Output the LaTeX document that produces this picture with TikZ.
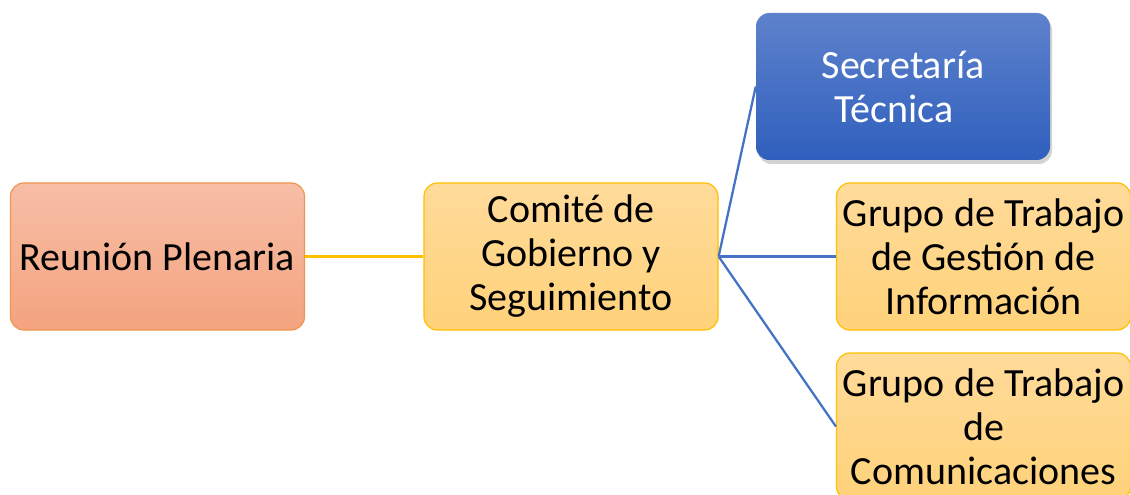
\documentclass[tikz,border=0pt]{standalone}
\usepackage{fontspec}
\setmainfont{Carlito}
\usetikzlibrary{shadows}
\definecolor{rpTop}{HTML}{F7BEA6}
\definecolor{rpBot}{HTML}{F4A37F}
\definecolor{rpLine}{HTML}{F0964F}
\definecolor{ylTop}{HTML}{FFDB9A}
\definecolor{ylBot}{HTML}{FFD27A}
\definecolor{ylLine}{HTML}{FFC000}
\definecolor{blTop}{HTML}{5E82CC}
\definecolor{blBot}{HTML}{2F5FBD}
\definecolor{conBlue}{HTML}{4472C4}
\tikzset{
  x=0.75pt, y=-0.75pt,
  boxbase/.style={rounded corners=10pt, inner sep=0pt, align=center,
    minimum width=220.5pt, minimum height=110.25pt,
    font=\fontsize{30}{33}\selectfont},
  redbox/.style={boxbase, draw=rpLine, line width=0.9pt, top color=rpTop, bottom color=rpBot},
  yelbox/.style={boxbase, draw=ylLine, line width=0.9pt, top color=ylTop, bottom color=ylBot},
  bluebox/.style={boxbase, top color=blTop, bottom color=blBot, text=white,
    drop shadow={opacity=0.35, shadow xshift=1.5pt, shadow yshift=-3pt}},
  yelcon/.style={draw=ylLine, line width=1.7pt},
  bluecon/.style={draw=conBlue, line width=1.7pt}
}
\begin{document}
\begin{tikzpicture}
\useasboundingbox (0,0) rectangle (1130,495);
\clip (0,0) rectangle (1130,495);
\node[redbox] (rp) at (157.5,256.5) {Reunión Plenaria};
\node[yelbox] (cg) at (571,256.5) {Comité de\\Gobierno y\\Seguimiento};
\node[bluebox] (st) at (903,86.5) {Secretaría\\Técnica\hspace*{0.45em}};
\node[yelbox] (gi) at (983.5,256.5) {Grupo de Trabajo\\de Gestión de\\Información};
\node[yelbox] (gc) at (983.5,426.5) {Grupo de Trabajo\\de\\Comunicaciones};
\draw[yelcon] (rp.east) -- (cg.west);
\draw[bluecon] (cg.east) -- (st.west);
\draw[bluecon] (cg.east) -- (gi.west);
\draw[bluecon] (cg.east) -- (gc.west);
\end{tikzpicture}
\end{document}
